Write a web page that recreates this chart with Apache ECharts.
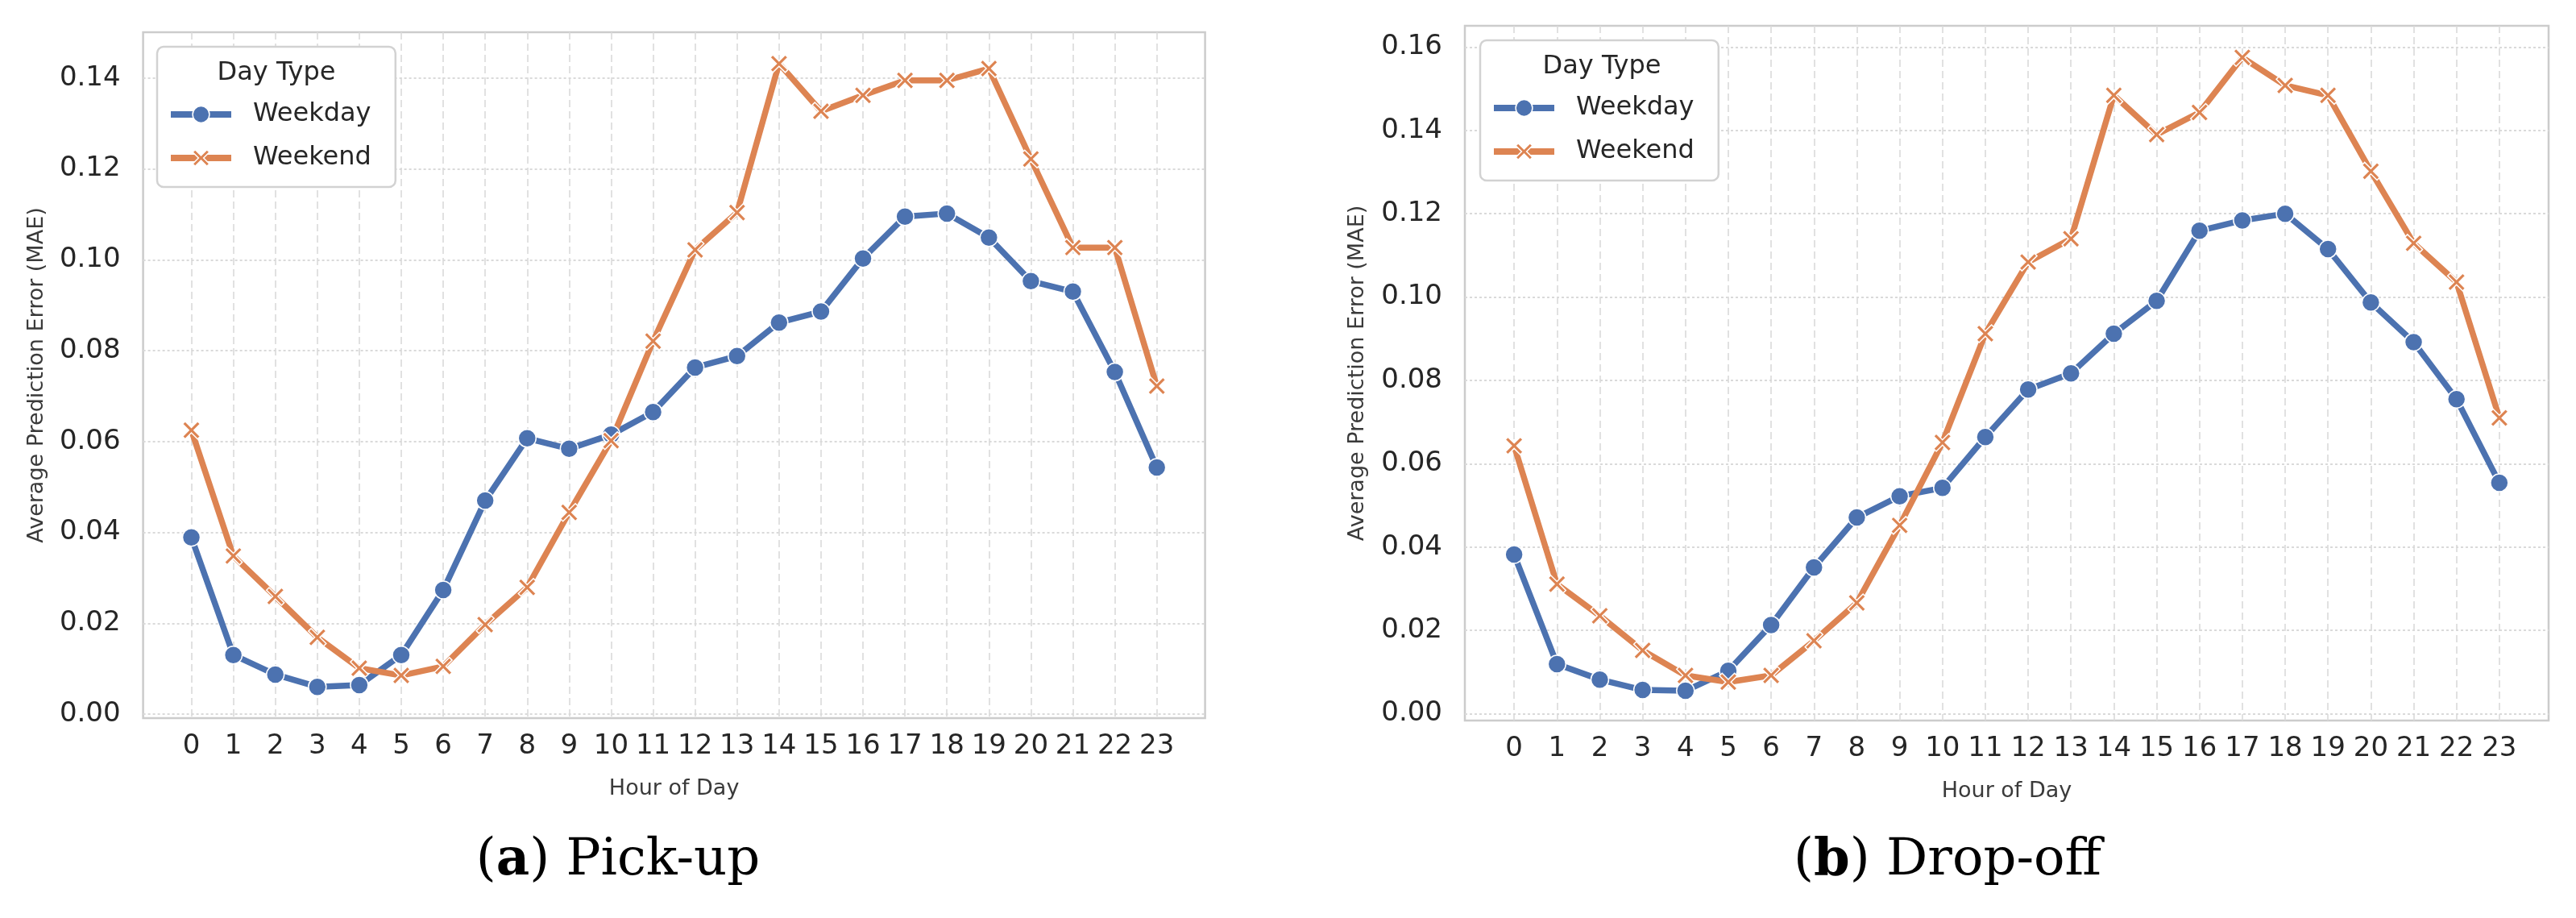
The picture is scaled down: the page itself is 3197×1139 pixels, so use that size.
<!DOCTYPE html>
<html>
<head>
<meta charset="utf-8">
<script src="https://cdn.jsdelivr.net/npm/echarts@6/dist/echarts.min.js"></script>
<style>
html,body{margin:0;padding:0;background:#fff;}
#chart{width:3197px;height:1139px;}
</style>
</head>
<body>
<div id="chart"></div>
<script>
// ---------- data ----------
const hours = [0,1,2,3,4,5,6,7,8,9,10,11,12,13,14,15,16,17,18,19,20,21,22,23];
const pickWeekday = [0.0389,0.0130,0.0087,0.0060,0.0064,0.0130,0.0273,0.0470,0.0607,0.0584,0.0615,0.0665,0.0763,0.0788,0.0862,0.0886,0.1003,0.1095,0.1102,0.1049,0.0953,0.0930,0.0753,0.0543];
const pickWeekend = [0.0625,0.0348,0.0259,0.0169,0.0101,0.0085,0.0105,0.0197,0.0279,0.0444,0.0602,0.0821,0.1022,0.1104,0.1432,0.1327,0.1362,0.1395,0.1395,0.1421,0.1222,0.1027,0.1027,0.0722];
const dropWeekday = [0.0382,0.0119,0.0082,0.0057,0.0055,0.0103,0.0213,0.0351,0.0471,0.0522,0.0542,0.0664,0.0778,0.0817,0.0912,0.0991,0.1159,0.1184,0.1200,0.1115,0.0987,0.0892,0.0755,0.0554];
const dropWeekend = [0.0643,0.0311,0.0235,0.0152,0.0092,0.0076,0.0092,0.0175,0.0266,0.0452,0.0651,0.0912,0.1084,0.1140,0.1484,0.1390,0.1443,0.1575,0.1508,0.1484,0.1302,0.1129,0.1036,0.0710];
const yTicksPick = [0,0.02,0.04,0.06,0.08,0.10,0.12,0.14];
const yTicksDrop = [0,0.02,0.04,0.06,0.08,0.10,0.12,0.14,0.16];
const seriesNames = ['Weekday','Weekend'];
const legendTitle = 'Day Type';
const xName = 'Hour of Day';
const yName = 'Average Prediction Error (MAE)';
const captions = [['a','Pick-up'],['b','Drop-off']];

// ---------- styles ----------
const BLUE = '#4C72B0', ORANGE = '#DD8452';
const FONT = 'DejaVu Sans';
const TXT = '#262626';
const GRIDC = '#dadada';
const XMARK = 'path://M0,1.5 L1.5,0 L5,3.5 L8.5,0 L10,1.5 L6.5,5 L10,8.5 L8.5,10 L5,6.5 L1.5,10 L0,8.5 L3.5,5 Z';

const pairs = (vals) => hours.map((h, i) => [h, vals[i]]);

const chart = echarts.init(document.getElementById('chart'));

function xAxisCfg(gi) {
  return {
    gridIndex: gi, type: 'value', min: -1.15, max: 24.15,
    axisLine: {show: false},
    axisTick: {show: false, customValues: hours},
    axisLabel: {customValues: hours, margin: 18, fontSize: 34, color: TXT, fontFamily: FONT},
    splitLine: {show: true, lineStyle: {color: GRIDC, width: 1.6, type: [9, 5]}},
    name: xName, nameLocation: 'middle', nameGap: 74,
    nameTextStyle: {fontSize: 27, color: '#3a3a3a', fontFamily: FONT}
  };
}
function yAxisCfg(gi, min, max, ticks, gap) {
  return {
    gridIndex: gi, type: 'value', min: min, max: max,
    axisLine: {show: false},
    axisTick: {show: false, customValues: ticks},
    axisLabel: {customValues: ticks, formatter: v => v.toFixed(2), margin: 28, fontSize: 34, color: TXT, fontFamily: FONT},
    splitLine: {show: true, lineStyle: {color: GRIDC, width: 2, type: [3, 3]}},
    name: yName, nameLocation: 'middle', nameGap: gap, nameRotate: 90,
    nameTextStyle: {fontSize: 27, color: '#3a3a3a', fontFamily: FONT}
  };
}
function lineSeries(name, gi, vals, color, symbol) {
  return {
    name: name, type: 'line', xAxisIndex: gi, yAxisIndex: gi,
    data: pairs(vals),
    symbol: symbol, symbolSize: symbol === 'circle' ? 22 : 22,
    showSymbol: true,
    lineStyle: {color: color, width: 7.5},
    itemStyle: {color: color, borderColor: '#fff', borderWidth: 1.5},
    emphasis: {disabled: true},
    animation: false
  };
}
function legendCfg(left, top) {
  return {
    left: left, top: top, orient: 'vertical',
    data: seriesNames,
    itemWidth: 75, itemHeight: 26, itemGap: 22,
    padding: [68, 30, 20, 13],
    borderColor: '#d2d2d2', borderWidth: 2.5, borderRadius: 8,
    backgroundColor: '#ffffff',
    lineStyle: {width: 8},
    itemStyle: {borderColor: '#fff', borderWidth: 1.5},
    textStyle: {fontFamily: FONT, fontSize: 32, color: TXT, padding: [0, 0, 0, 22]},
    selectedMode: false
  };
}
function captionCfg(i, cx) {
  return {
    text: '({b|' + captions[i][0] + '}) ' + captions[i][1],
    left: cx, top: 1036, textAlign: 'center', padding: 0,
    textStyle: {fontFamily: 'DejaVu Serif', fontSize: 64, fontWeight: 'normal', color: '#000',
      rich: {b: {fontFamily: 'DejaVu Serif', fontSize: 64, fontWeight: 'bold', color: '#000'}}}
  };
}
function legendTitleCfg(cx, top) {
  return {
    text: legendTitle, left: cx, top: top, textAlign: 'center', padding: 0, z: 10,
    textStyle: {fontFamily: FONT, fontSize: 32, fontWeight: 'normal', color: TXT}
  };
}

chart.setOption({
  backgroundColor: '#fff',
  animation: false,
  title: [
    legendTitleCfg(343, 75),
    legendTitleCfg(1988, 67),
    captionCfg(0, 767),
    captionCfg(1, 2417)
  ],
  legend: [legendCfg(195, 58), legendCfg(1837, 50)],
  grid: [
    {left: 177.6, top: 40, width: 1318, height: 851, show: true, borderColor: '#cccccc', borderWidth: 2.5, backgroundColor: '#fff'},
    {left: 1818, top: 32, width: 1345, height: 862, show: true, borderColor: '#cccccc', borderWidth: 2.5, backgroundColor: '#fff'}
  ],
  xAxis: [xAxisCfg(0), xAxisCfg(1)],
  yAxis: [
    yAxisCfg(0, -0.00089, 0.1501, yTicksPick, 118),
    yAxisCfg(1, -0.00164, 0.1651, yTicksDrop, 120)
  ],
  series: [
    lineSeries(seriesNames[0], 0, pickWeekday, BLUE, 'circle'),
    lineSeries(seriesNames[1], 0, pickWeekend, ORANGE, XMARK),
    lineSeries(seriesNames[0], 1, dropWeekday, BLUE, 'circle'),
    lineSeries(seriesNames[1], 1, dropWeekend, ORANGE, XMARK)
  ]
});
</script>
</body>
</html>
